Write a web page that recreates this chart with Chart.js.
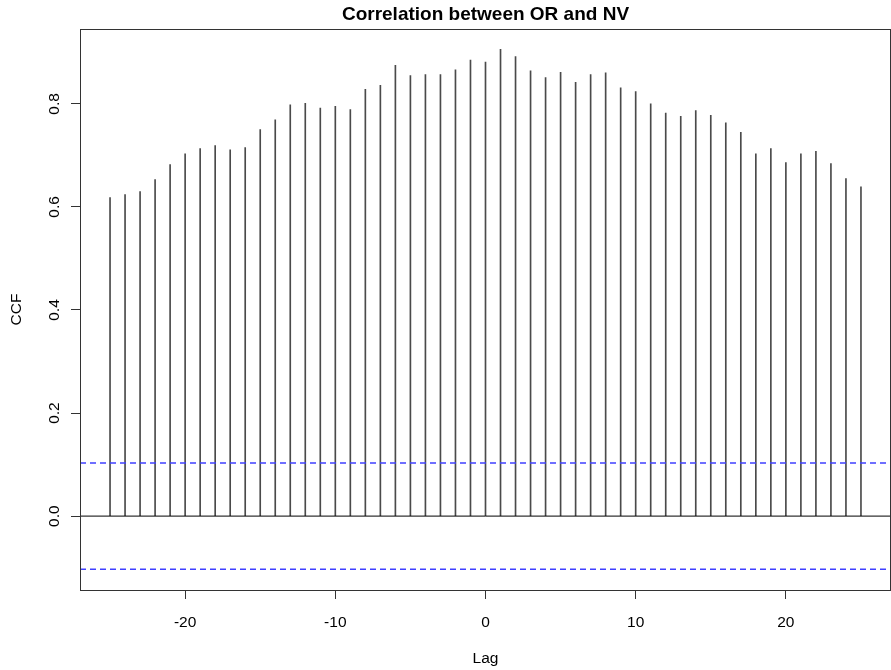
<!DOCTYPE html>
<html>
<head>
<meta charset="utf-8">
<title>Correlation between OR and NV</title>
<script src="https://cdn.jsdelivr.net/npm/chart.js@4.4.1/dist/chart.umd.min.js"></script>
<style>
  html, body { margin: 0; padding: 0; background: #fff; }
  #wrap { width: 891px; height: 670px; }
</style>
</head>
<body>
<div id="wrap"><canvas id="ccf" width="891" height="670"></canvas></div>
<script>
// lags and cross-correlation values
const lags = [-25, -24, -23, -22, -21, -20, -19, -18, -17, -16, -15, -14, -13,
  -12, -11, -10, -9, -8, -7, -6, -5, -4, -3, -2, -1, 0, 1, 2, 3, 4, 5, 6, 7,
  8, 9, 10, 11, 12, 13, 14, 15, 16, 17, 18, 19, 20, 21, 22, 23, 24, 25];
const ccfValues = [0.618, 0.624, 0.630, 0.653, 0.682, 0.703, 0.713, 0.719,
  0.711, 0.715, 0.750, 0.769, 0.798, 0.801, 0.792, 0.795, 0.789, 0.828, 0.836,
  0.875, 0.855, 0.857, 0.857, 0.866, 0.885, 0.881, 0.906, 0.892, 0.864, 0.851,
  0.861, 0.842, 0.857, 0.860, 0.831, 0.824, 0.800, 0.782, 0.776, 0.787, 0.778,
  0.763, 0.745, 0.703, 0.713, 0.686, 0.703, 0.708, 0.684, 0.655, 0.639];
// confidence bound (+/-) and axis limits
const ciBound = 0.103;
const xLimits = [-27, 27];
const yLimits = [-0.1434, 0.9453];
const xTickStep = 10;
const yTickStep = 0.2;

const FONT = '"Liberation Sans", Arial, Helvetica, sans-serif';

const ccfData = lags.map((lag, i) => ({ x: lag, y: ccfValues[i] }));
const hline = (v) => [{ x: xLimits[0], y: v }, { x: xLimits[1], y: v }];

// box, titles and tick labels in base-graphics style
const rDecor = {
  id: 'rDecor',
  afterDraw(chart) {
    const { ctx, chartArea: a, scales } = chart;
    const xs = scales.x, ys = scales.y;
    ctx.save();
    ctx.strokeStyle = '#333';
    ctx.lineWidth = 1;
    ctx.strokeRect(a.left + 0.5, a.top + 0.5, a.right - a.left - 1, a.bottom - a.top);

    ctx.fillStyle = '#000';
    ctx.font = 'bold 19px ' + FONT;
    ctx.textAlign = 'center';
    ctx.textBaseline = 'alphabetic';
    ctx.fillText('Correlation between OR and NV', (a.left + a.right) / 2, 20);

    ctx.font = '15.5px ' + FONT;
    xs.ticks.forEach(t => {
      ctx.fillText(String(t.value), xs.getPixelForValue(t.value), 626.5);
    });
    ctx.fillText('Lag', (a.left + a.right) / 2, 663);

    ys.ticks.forEach(t => {
      ctx.save();
      ctx.translate(58.5, ys.getPixelForValue(t.value));
      ctx.rotate(-Math.PI / 2);
      ctx.fillText(t.value.toFixed(1), 0, 0);
      ctx.restore();
    });
    ctx.save();
    ctx.translate(21, (a.top + a.bottom) / 2);
    ctx.rotate(-Math.PI / 2);
    ctx.fillText('CCF', 0, 0);
    ctx.restore();
    ctx.restore();
  }
};

new Chart(document.getElementById('ccf'), {
  type: 'bar',
  data: {
    datasets: [
      {
        label: 'CCF',
        data: ccfData,
        backgroundColor: '#4a4a4a',
        borderWidth: 0,
        barThickness: 1,
        order: 2
      },
      {
        type: 'line',
        label: 'zero',
        data: hline(0),
        borderColor: '#000',
        borderWidth: 1,
        pointRadius: 0,
        order: 1
      },
      {
        type: 'line',
        label: 'upper',
        data: hline(ciBound),
        borderColor: '#4040ff',
        borderWidth: 1.4,
        borderDash: [6, 4],
        pointRadius: 0,
        order: 1
      },
      {
        type: 'line',
        label: 'lower',
        data: hline(-ciBound),
        borderColor: '#4040ff',
        borderWidth: 1.4,
        borderDash: [6, 4],
        pointRadius: 0,
        order: 1
      }
    ]
  },
  options: {
    responsive: false,
    animation: false,
    devicePixelRatio: 1,
    layout: { padding: { top: 29, right: 0, left: 0, bottom: 0 } },
    plugins: {
      legend: { display: false },
      tooltip: { enabled: false }
    },
    scales: {
      x: {
        type: 'linear',
        min: xLimits[0],
        max: xLimits[1],
        offset: false,
        ticks: { display: false, stepSize: xTickStep, includeBounds: false },
        grid: { drawOnChartArea: false, drawTicks: true, tickLength: 9, color: '#333', offset: false },
        border: { display: false },
        afterFit(scale) { scale.height = 80; }
      },
      y: {
        min: yLimits[0],
        max: yLimits[1],
        ticks: { display: false, stepSize: yTickStep, includeBounds: false },
        grid: { drawOnChartArea: false, drawTicks: true, tickLength: 9, color: '#333' },
        border: { display: false },
        afterFit(scale) { scale.width = 80; }
      }
    }
  },
  plugins: [rDecor]
});
</script>
</body>
</html>
